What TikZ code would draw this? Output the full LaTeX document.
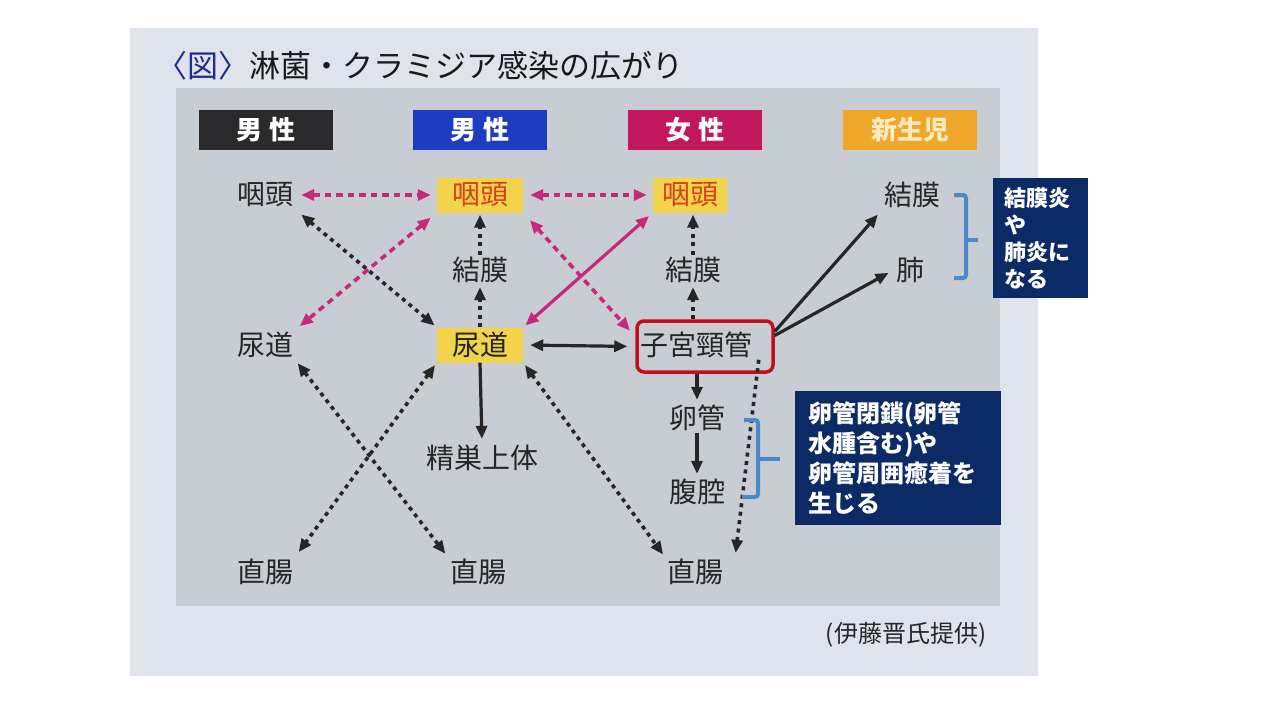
\documentclass[tikz,border=0pt]{standalone}
\usepackage{fontspec}
\setmainfont{Noto Sans CJK JP}
\usetikzlibrary{arrows.meta,calc}
\definecolor{photobg}{HTML}{DFE4EC}
\definecolor{panel}{HTML}{C8CCD3}
\definecolor{titleblue}{HTML}{1E2C8C}
\definecolor{hblack}{HTML}{2A2A2C}
\definecolor{hblue}{HTML}{1E3CC0}
\definecolor{hred}{HTML}{C0185A}
\definecolor{horange}{HTML}{F0A628}
\definecolor{hpale}{HTML}{FCEBC0}
\definecolor{ybox}{HTML}{F2D34C}
\definecolor{ytext}{HTML}{D8401C}
\definecolor{magent}{HTML}{C8287A}
\definecolor{redbox}{HTML}{C0101C}
\definecolor{navy}{HTML}{0C2A66}
\definecolor{brblue}{HTML}{4A88C8}
\tikzset{
  lbl/.style={font=\fontsize{28}{32}\selectfont, inner sep=2pt, text=black!85},
  ylbl/.style={fill=ybox, minimum width=86pt, minimum height=35pt, inner sep=0pt, font=\fontsize{28}{32}\selectfont},
  hdr/.style={minimum width=134pt, minimum height=40pt, inner sep=0pt, text=white, font=\bfseries\fontsize{26}{30}\selectfont},
  tip/.style={-{Triangle[length=13pt,width=11pt]}},
  tips/.style={{Triangle[length=13pt,width=11pt]}-{Triangle[length=13pt,width=11pt]}},
  dotb/.style={draw=black!85, line width=3.6pt, dash pattern=on 4pt off 4.5pt},
  dashm/.style={draw=magent, line width=3.6pt, dash pattern=on 6.5pt off 5pt},
  solb/.style={draw=black!85, line width=3.2pt},
  solm/.style={draw=magent, line width=3.2pt},
  navybox/.style={fill=navy, text=white, align=left, anchor=north west, inner ysep=0pt, font=\bfseries},
  bracket/.style={draw=brblue, line width=4pt, rounded corners=3pt}
}
\begin{document}
\begin{tikzpicture}[x=1pt,y=-1pt]
\useasboundingbox (0,0) rectangle (1280,720);
\fill[white] (0,0) rectangle (1280,720);
\fill[photobg] (130,28) rectangle (1038,676);
\fill[panel] (176,88) rectangle (1000,606);

% title
\node[anchor=west, font=\fontsize{31}{36}\selectfont, inner sep=0pt, text=black!90] (title) at (156,66)
  {{\color{titleblue}〈図〉}淋菌・クラミジア感染の広がり};

% headers
\node[hdr, fill=hblack] (h1) at (266,130) {男\hspace{8pt}性};
\node[hdr, fill=hblue] (h2) at (480,130) {男\hspace{8pt}性};
\node[hdr, fill=hred] (h3) at (695,130) {女\hspace{8pt}性};
\node[hdr, fill=horange, text=hpale] (h4) at (910,130) {新生児};

% nodes
\node[lbl] (p1) at (265,195) {咽頭};
\node[ylbl, text=ytext] (p2) at (480,195) {咽頭};
\node[ylbl, text=ytext, minimum width=74pt] (p3) at (690,195) {咽頭};
\node[lbl] (k4) at (912,195) {結膜};
\node[lbl] (k2) at (480,270) {結膜};
\node[lbl] (k3) at (693,270) {結膜};
\node[lbl] (lung) at (910,270) {肺};
\node[lbl] (u1) at (265,345) {尿道};
\node[ylbl, text=black!85] (u2) at (480,345) {尿道};
\node[draw=redbox, line width=3.5pt, rounded corners=7pt, minimum width=136pt, minimum height=51pt, inner sep=0pt] (cbox) at (705,346.5) {};
\node[lbl] (c) at (696,345) {子宮頸管};
\node[lbl] (r1) at (697,418) {卵管};
\node[lbl] (s) at (482,458) {精巣上体};
\node[lbl] (f) at (697,492) {腹腔};
\node[lbl] (d1) at (265,572) {直腸};
\node[lbl] (d2) at (478,572) {直腸};
\node[lbl] (d3) at (695,572) {直腸};

% magenta connectors
\draw[dashm, tips, shorten <=6pt, shorten >=6pt] (p1.east) -- (p2.west);
\draw[dashm, tips, shorten <=7pt, shorten >=6pt] (p2.east) -- (p3.west);
\draw[dashm, tips, shorten <=8pt, shorten >=6pt] (p2.south west) -- (u1.north east);
\draw[dashm, tips, shorten <=10pt, shorten >=8pt] (p2.south east) -- ([yshift=10pt]cbox.west);
\draw[solm, tips, shorten <=5pt, shorten >=3pt] (p3.south west) -- (u2.north east);

% black dotted, upper
\draw[dotb, tips, shorten <=8pt, shorten >=3pt] (p1.south east) -- (u2.north west);
\draw[dotb, tip, shorten >=2pt] (k2.north) -- (p2.south);
\draw[dotb, tip, shorten >=2pt] (u2.north) -- (k2.south);
\draw[dotb, tip, shorten >=2pt] (k3.north) -- (k3.north |- p3.south);
\draw[dotb, tip, shorten >=2pt] (k3 |- cbox.north) -- (k3.south);

% solid black
\draw[solb, tips, shorten <=7pt, shorten >=7pt] (u2.east) -- ([xshift=-1pt]cbox.west);
\draw[solb, tip, shorten >=4pt] (u2.south) -- (s.north);
\draw[solb, tip, shorten >=3pt] (r1 |- cbox.south) -- (r1.north);
\draw[solb, tip, shorten >=3pt] (r1.south) -- (f.north);
\draw[solb, tip, shorten >=6pt] ([yshift=15pt]cbox.east) -- (k4.south west);
\draw[solb, tip, shorten >=6pt] ([yshift=11pt]cbox.east) -- (lung.west);

% black dotted, lower
\draw[dotb, tips, shorten <=4pt, shorten >=4pt] (u1.south east) -- (d2.north west);
\draw[dotb, tips, shorten <=3pt, shorten >=6pt] (u2.south west) -- (d1.north east);
\draw[dotb, tips, shorten <=3pt, shorten >=3pt] (u2.south east) -- (d3.north west);
\draw[dotb, tip, shorten >=4pt] ([shift={(-16pt,14pt)}]cbox.south east) -- ([xshift=10pt]d3.north east);

% brackets
\draw[bracket] (954,195) -- (966,195) -- (966,278) -- (954,278);
\draw[bracket] (966,240) -- (978,240);
\draw[bracket] (744,420) -- (758,420) -- (758,497) -- (742,497);
\draw[bracket] (758,459) -- (780,459);

% navy boxes
\node[navybox, minimum width=95pt, minimum height=120pt, text width=73pt, inner xsep=11pt,
  font=\bfseries\fontsize{22}{27}\selectfont] (nb1) at (993,178)
  {結膜炎\\や\\肺炎に\\なる};
\node[navybox, minimum width=206pt, minimum height=134pt, text width=180pt, inner xsep=13pt,
  font=\bfseries\fontsize{24}{30}\selectfont] (nb2) at (795,391)
  {卵管閉鎖(卵管\\水腫含む)や\\卵管周囲癒着を\\生じる};

% credit
\node[font=\fontsize{24}{28}\selectfont, text=black!85] (credit) at (906,635) {(伊藤晋氏提供)};
\end{tikzpicture}
\end{document}
